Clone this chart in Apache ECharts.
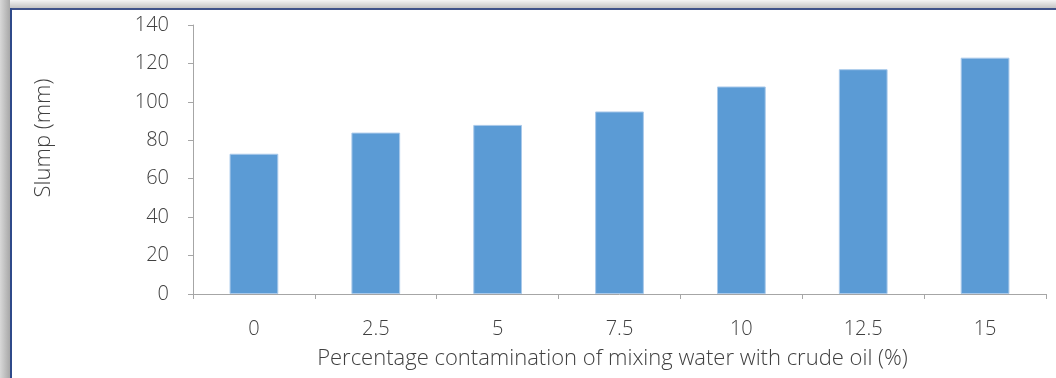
<!DOCTYPE html>
<html>
<head>
<meta charset="utf-8">
<script src="https://cdn.jsdelivr.net/npm/echarts@6/dist/echarts.min.js"></script>
<style>
html,body{margin:0;padding:0;background:#fff;}
#chart{width:1056px;height:378px;}
</style>
</head>
<body>
<div id="chart"></div>
<script>
const categories = ['0', '2.5', '5', '7.5', '10', '12.5', '15'];
const slump = [73, 84, 88, 95, 108, 117, 123];
const yTicks = { min: 0, max: 140, interval: 20 };
const xTitle = 'Percentage contamination of mixing water with crude oil (%)';
const yTitle = 'Slump (mm)';

const chart = echarts.init(document.getElementById('chart'), null, { renderer: 'canvas' });
const font = '"Open Sans", "Segoe UI", sans-serif';
chart.setOption({
  animation: false,
  backgroundColor: '#ffffff',
  graphic: [
    { type: 'rect', left: 0, top: 0, shape: { width: 1056, height: 8 }, silent: true,
      style: { fill: new echarts.graphic.LinearGradient(0, 0, 0, 1, [{ offset: 0, color: '#f4f4f4' }, { offset: 1, color: '#c4c4c4' }]) } },
    { type: 'rect', left: 0, top: 0, shape: { width: 10, height: 378 }, silent: true,
      style: { fill: new echarts.graphic.LinearGradient(0, 0, 1, 0, [{ offset: 0, color: '#d8d8d8' }, { offset: 1, color: '#a8a8a8' }]) } },
    { type: 'rect', left: 10, top: 8, shape: { width: 1046, height: 2 }, silent: true, style: { fill: '#3f5289' } },
    { type: 'rect', left: 10, top: 8, shape: { width: 2, height: 370 }, silent: true, style: { fill: '#2f4a8a' } },
    { type: 'text', x: 44, y: 138, rotation: Math.PI / 2, silent: true,
      style: { text: yTitle, fontFamily: font, fontSize: 22, fontWeight: 300, fill: '#404040', align: 'center', verticalAlign: 'middle' } }
  ],
  grid: { left: 193, top: 25, right: 10, bottom: 84, containLabel: false },
  xAxis: {
    type: 'category',
    data: categories,
    name: xTitle,
    nameLocation: 'middle',
    nameGap: 54,
    nameTextStyle: { fontFamily: font, fontSize: 22, color: '#404040', fontWeight: 300, padding: [0, 14, 0, 0] },
    axisLine: { lineStyle: { color: '#a6a6a6', width: 1 } },
    axisTick: { show: true, length: 5, inside: false, lineStyle: { color: '#a6a6a6' } },
    axisLabel: { fontFamily: font, fontSize: 20, color: '#404040', fontWeight: 300, margin: 25 },
    splitLine: { show: false }
  },
  yAxis: {
    type: 'value',
    min: yTicks.min, max: yTicks.max, interval: yTicks.interval,
    axisLine: { show: true, lineStyle: { color: '#a6a6a6', width: 1 } },
    axisTick: { show: true, length: 5, lineStyle: { color: '#a6a6a6' } },
    axisLabel: { fontFamily: font, fontSize: 20, color: '#404040', fontWeight: 300, margin: 24 },
    splitLine: { show: false }
  },
  series: [{
    type: 'bar',
    data: slump,
    barCategoryGap: '60%',
    itemStyle: { color: '#5b9bd5', borderColor: '#a9c9ea', borderWidth: 1 }
  }]
});
</script>
</body>
</html>
